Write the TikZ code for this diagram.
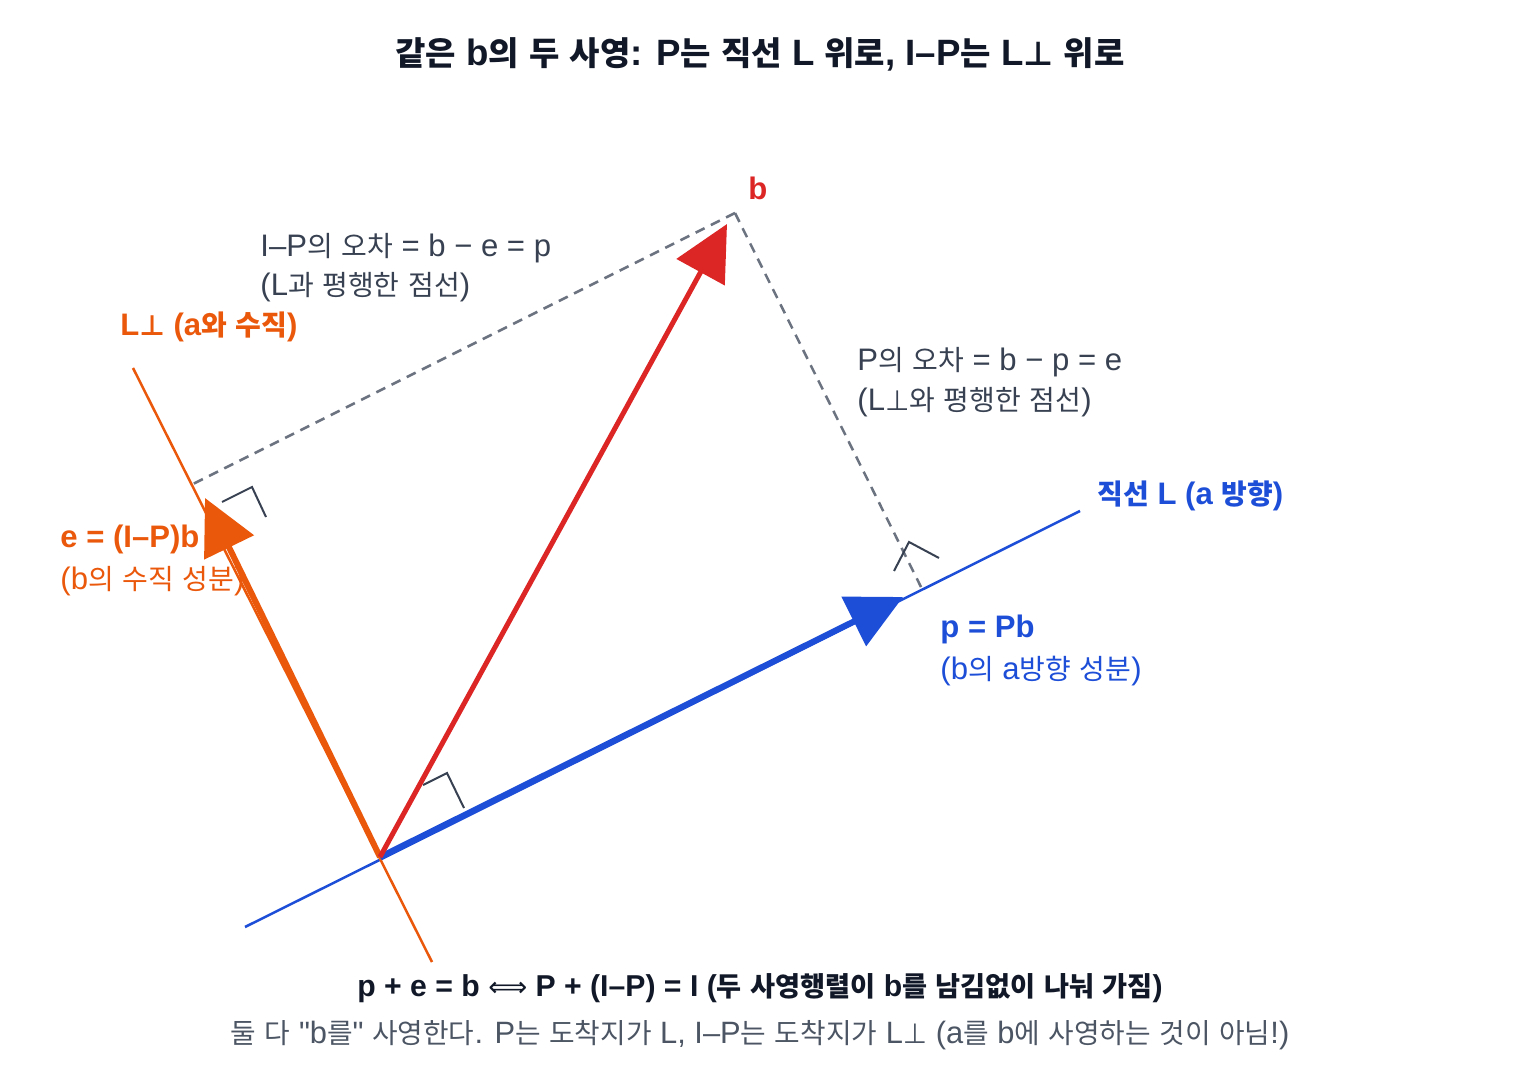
\documentclass[tikz,border=0pt]{standalone}
\usepackage{fontspec}
\setmainfont{Liberation Sans}[Ligatures=TeXOff,Scale=1.11]
\newfontfamily\latfam{Liberation Sans}[Ligatures=TeXOff,Scale=1.11]
\newfontfamily\krfam{Noto Sans CJK KR}[Ligatures=TeXOff]
\newfontfamily\symfont{DejaVu Sans}
\XeTeXinterchartokenstate=1
\newXeTeXintercharclass\krclass
\newcount\kc
\kc="AC00
\loop\ifnum\kc<"D7A4 \XeTeXcharclass\kc=\krclass \advance\kc by 1 \repeat
\XeTeXinterchartoks 0 \krclass = {\krfam}
\XeTeXinterchartoks 4095 \krclass = {\krfam}
\XeTeXinterchartoks \krclass 0 = {\latfam}
\XeTeXinterchartoks \krclass 4095 = {\latfam}
\usetikzlibrary{arrows.meta}
\definecolor{cred}{HTML}{DC2626}
\definecolor{cblue}{HTML}{1D4ED8}
\definecolor{corange}{HTML}{EA580C}
\definecolor{cgray}{HTML}{6B7280}
\definecolor{cdark}{HTML}{374151}
\definecolor{cink}{HTML}{111827}
\definecolor{csub}{HTML}{4B5563}
\tikzset{
  vecarrow/.style={line width=2.75pt, -{Triangle[length=27.5pt,width=27pt]}},
  thinline/.style={line width=1.25pt},
  dashline/.style={line width=1.25pt, cgray, dash pattern=on 5pt off 3.5pt},
  rightang/.style={line width=1pt, cdark},
  lbl/.style={font=\fontsize{14pt}{16pt}\selectfont, text=cdark, anchor=base west, inner sep=0pt},
  lblb/.style={font=\fontsize{14pt}{16pt}\selectfont\bfseries, anchor=base west, inner sep=0pt},
}
\newcommand\perpsym{{\symfont ⊥}}
\begin{document}
\begin{tikzpicture}[x=0.5pt,y=-0.5pt]
\useasboundingbox (0,0) rectangle (1520,1080);
% key points
\coordinate (O) at (380,857);
\coordinate (b) at (735,213);
\coordinate (p) at (921,587);
\coordinate (e) at (193,484);
\coordinate (Ls) at (245,927);
\coordinate (Le) at (1080,511);
\coordinate (Ps) at (133,368);
\coordinate (Pe) at (432,962);
\coordinate (btip) at (727,224);
\coordinate (ptip) at (903,597);
\coordinate (etip) at (205,498);
% title
\node[font=\fontsize{16.5pt}{18pt}\selectfont\bfseries, text=cink, anchor=base, inner sep=0pt] (title) at (760,66) {같은 b의 두 사영: P는 직선 L 위로, I–P는 L\perpsym{} 위로};
% lines
\draw[thinline, cblue] (Ls) -- (Le);
\draw[thinline, corange] (Ps) -- (Pe);
% dashed error lines
\draw[dashline] (b) -- (e);
\draw[dashline] (b) -- (p);
% right angle markers
\draw[rightang] (222,502) -- (252,487) -- (266,517);
\draw[rightang] (894,571) -- (909,542) -- (939,558);
\draw[rightang] (423,785) -- (447,773) -- (464,808);
% vectors
\draw[vecarrow, corange, line width=3pt] (O) -- (etip);
\draw[vecarrow, cblue, line width=3pt] (O) -- (ptip);
\draw[vecarrow, cred, line width=2.5pt] (O) -- (btip);
% labels
\node[lblb, text=cred] (blab) at (748,200) {b};
\node[lbl] (err1) at (260,257) {I–P의 오차 = b − e = p};
\node[lbl] (err1b) at (260,296) {(L과 평행한 점선)};
\node[lblb, text=corange] (lperp) at (120,336) {L\perpsym{} (a와 수직)};
\node[lbl] (err2) at (857,371) {P의 오차 = b − p = e};
\node[lbl] (err2b) at (857,410) {(L\perpsym{}와 평행한 점선)};
\node[lblb, text=cblue] (llab) at (1097,504) {직선 L (a 방향)};
\node[lblb, text=corange] (elab) at (60,547) {e = (I–P)b};
\node[lbl, text=corange] (elab2) at (60,589) {(b의 수직 성분)};
\node[lblb, text=cblue] (plab) at (940,637) {p = Pb};
\node[lbl, text=cblue] (plab2) at (940,679) {(b의 a방향 성분)};
% bottom
\node[font=\fontsize{13.6pt}{15pt}\selectfont\bfseries, text=cink, anchor=base, inner sep=0pt] (eq) at (760,996) {p + e = b {\symfont\mdseries ⟺} P + (I–P) = I (두 사영행렬이 b를 남김없이 나눠 가짐)};
\node[font=\fontsize{13.9pt}{15pt}\selectfont, text=csub, anchor=base, inner sep=0pt] (note) at (760,1043) {둘 다 "b를" 사영한다. P는 도착지가 L, I–P는 도착지가 L\perpsym{} (a를 b에 사영하는 것이 아님!)};
\end{tikzpicture}
\end{document}
